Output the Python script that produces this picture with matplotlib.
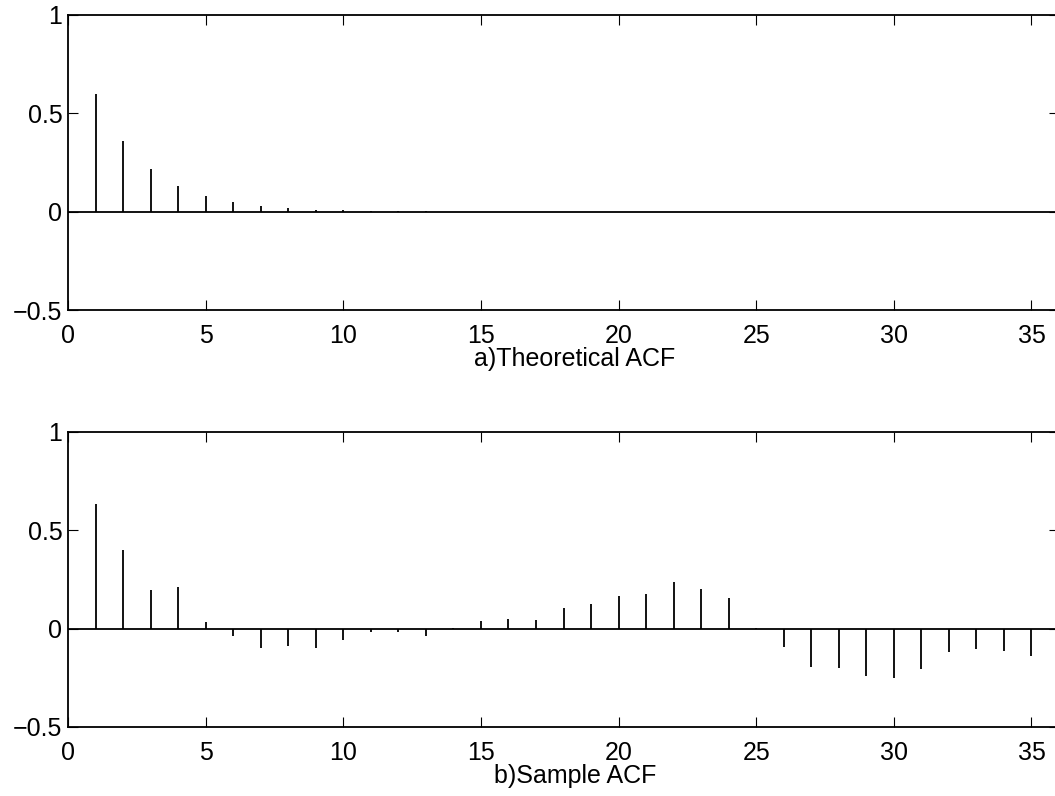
import numpy as np
import matplotlib.pyplot as plt

plt.rcParams['font.family'] = ['Liberation Sans', 'DejaVu Sans']

lags = list(range(1, 36))

theoretical_acf = [0.6, 0.36, 0.216, 0.1296, 0.0778, 0.0467, 0.028, 0.0168, 0.0101, 0.006,
                   0.0036, 0.0022, 0.0013, 0.0008, 0.0005, 0.0003, 0.0002, 0.0001, 0.0001, 0.0,
                   0.0, 0.0, 0.0, 0.0, 0.0, 0.0, 0.0, 0.0, 0.0, 0.0,
                   0.0, 0.0, 0.0, 0.0, 0.0]

sample_acf = [0.636, 0.398, 0.198, 0.21, 0.032, -0.036, -0.10, -0.087, -0.10, -0.06,
              -0.017, -0.015, -0.036, 0.003, 0.037, 0.049, 0.046, 0.103, 0.125, 0.164,
              0.174, 0.237, 0.20, 0.154, 0.003, -0.095, -0.195, -0.202, -0.241, -0.251,
              -0.203, -0.119, -0.104, -0.112, -0.141]

xticks = [0, 5, 10, 15, 20, 25, 30, 35]
yticks = [-0.5, 0, 0.5, 1]
ytick_labels = ['\u22120.5', '0', '0.5', '1']
titles = ['a)Theoretical ACF', 'b)Sample ACF']

W, H = 1055, 796
fig = plt.figure(figsize=(W / 100, H / 100), dpi=100)

# axes boxes in pixels: left, top, right, bottom (right edge runs off the figure)
boxes = [(68, 15, 1059, 310), (68, 432, 1059, 727)]

for (l, t, r, b), vals, title in zip(boxes, [theoretical_acf, sample_acf], titles):
    ax = fig.add_axes([l / W, 1 - b / H, (r - l) / W, (b - t) / H])
    ax.vlines(lags, 0, vals, color='black', linewidth=1.3)
    ax.axhline(0, color='black', linewidth=1.3)
    ax.set_xlim(0, 36)
    ax.set_ylim(-0.5, 1)
    ax.set_xticks(xticks)
    ax.set_yticks(yticks)
    ax.set_yticklabels(ytick_labels)
    ax.tick_params(direction='in', length=7.5, width=0.8, top=True, right=True,
                   labelsize=18)
    ax.tick_params(axis='x', pad=10)
    ax.tick_params(axis='y', pad=4)
    for s in ax.spines.values():
        s.set_linewidth(1.3)
    ax.set_xlabel(title, fontsize=18, labelpad=1)
    ax.xaxis.set_label_coords((575 - l) / (r - l), -0.125)
    ax.xaxis.label.set_va('top')

fig.savefig('out.png', dpi=100)
